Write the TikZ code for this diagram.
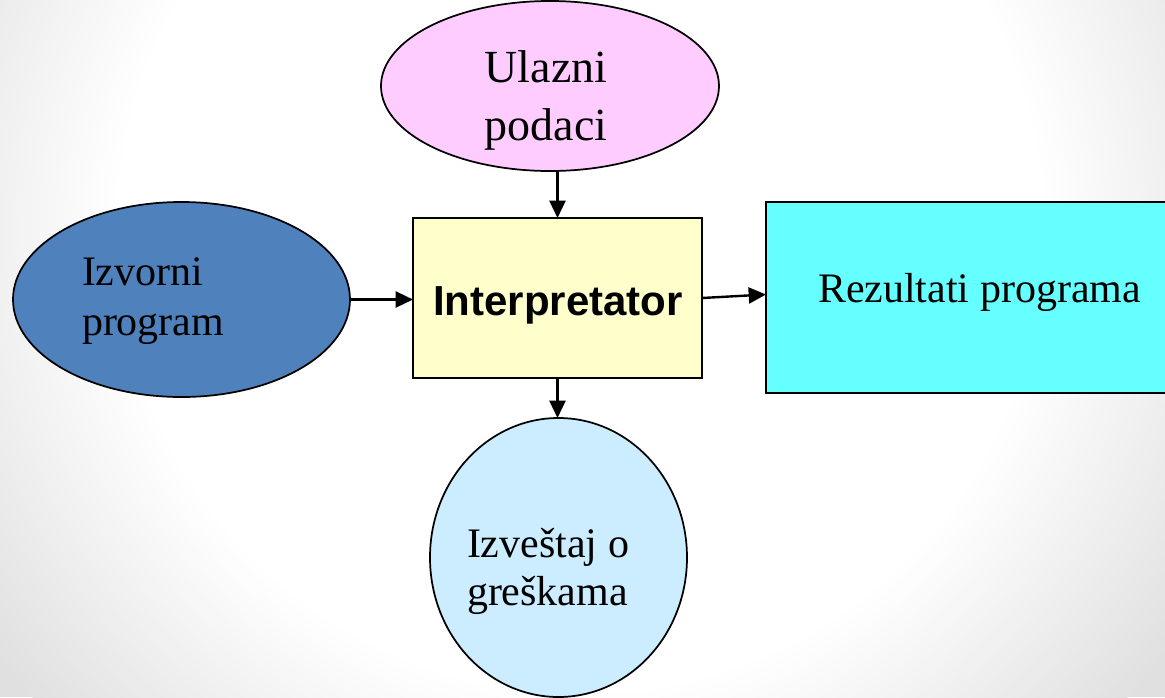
\documentclass[tikz,border=0pt]{standalone}
\usepackage{fontspec}
\setmainfont{Liberation Serif}
\newfontfamily\arialfont{Liberation Sans}
\usetikzlibrary{shapes.geometric,arrows.meta}
\pgfdeclareradialshading{bgshade}{\pgfpoint{0bp}{0bp}}{color(0bp)=(white); color(16bp)=(white); color(25bp)=(gray!24); color(50bp)=(gray!24)}
\definecolor{pinkfill}{HTML}{FFCCFF}
\definecolor{bluefill}{HTML}{4F81BD}
\definecolor{yellowfill}{HTML}{FFFFCC}
\definecolor{cyanfill}{HTML}{66FFFF}
\definecolor{lightbluefill}{HTML}{CCECFF}
\begin{document}
\begin{tikzpicture}[x=0.75pt,y=-0.75pt,
  shapeline/.style={draw=black,line width=1.3pt,inner sep=0pt,outer sep=0pt},
  ell/.style={shapeline,ellipse},
  boxshape/.style={shapeline,rectangle},
  txt/.style={inner sep=0pt,outer sep=0pt,text=black},
  serifbig/.style={txt,font=\fontsize{31.5}{37.5}\selectfont},
  conn/.style={line width=1.8pt,-{Triangle[length=13pt,width=12pt]}}]
\clip (0,0) rectangle (1165,697);
\fill[gray!24] (0,0) rectangle (1165,697);
\shade[shading=bgshade] (580,230) circle (720);
% shapes
\node[ell,fill=pinkfill,minimum width=253.5pt,minimum height=127.5pt] (inp) at (550,86) {};
\node[ell,fill=bluefill,minimum width=252.75pt,minimum height=146.25pt] (src) at (181.5,299.5) {};
\node[boxshape,fill=yellowfill,minimum width=216.75pt,minimum height=120pt] (interp) at (557.5,298) {};
\node[boxshape,fill=cyanfill,minimum width=306.75pt,minimum height=143.25pt] (res) at (970.5,297.5) {};
\node[ell,fill=lightbluefill,minimum width=192.75pt,minimum height=209.25pt] (err) at (558.5,557.5) {};
% texts
\node[txt,anchor=base,font=\fontsize{34.5}{43.5}\selectfont] (inptext) at (546,82) {\begin{tabular}[t]{@{}c@{}}Ulazni\\podaci\end{tabular}};
\node[serifbig,anchor=base west] (srctext) at (82,285) {\begin{tabular}[t]{@{}l@{}}Izvorni\\program\end{tabular}};
\node[txt,anchor=base,font=\arialfont\bfseries\fontsize{31.5}{37.5}\selectfont] (interptext) at (558,315) {Interpretator};
\node[serifbig,anchor=base west] (restext) at (818,302) {Rezultati programa};
\node[txt,anchor=base west,font=\fontsize{31.5}{36}\selectfont] (errtext) at (467,557) {\begin{tabular}[t]{@{}l@{}}Izveštaj o\\greškama\end{tabular}};
% connectors
\draw[conn] (interp.north |- inp.south) -- (interp.north);
\draw[conn] (src.east) -- (src.east -| interp.west);
\draw[conn] (interp.east) -- ([yshift=2.25pt]res.west);
\draw[conn] (interp.south) -- (interp.south |- err.north);
\end{tikzpicture}
\end{document}
